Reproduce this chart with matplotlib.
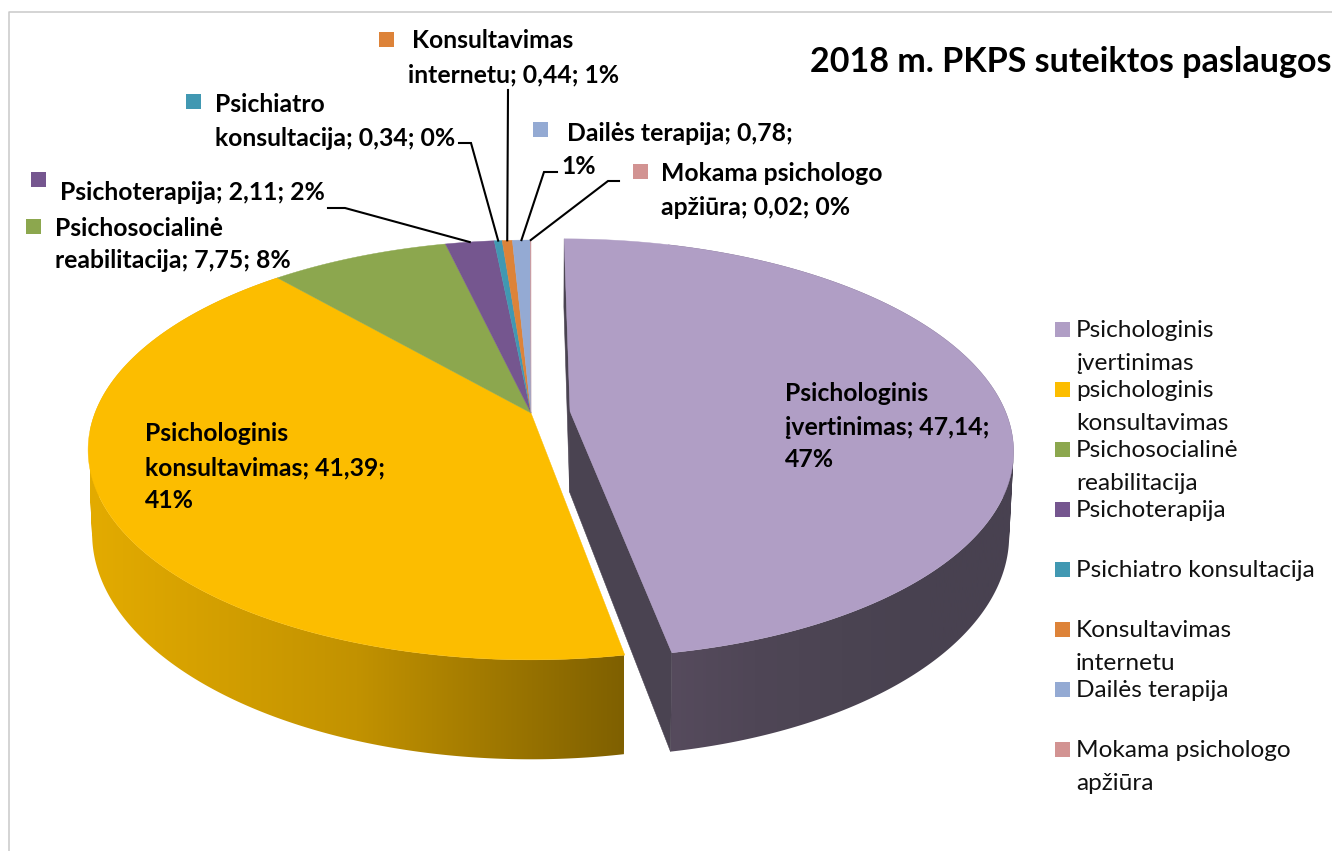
"""2018 m. PKPS suteiktos paslaugos: exploded perspective pie."""
import matplotlib

matplotlib.use("Agg")  # headless backend
import matplotlib.pyplot as plt
import numpy as np
from matplotlib.colors import LinearSegmentedColormap
from matplotlib.patches import PathPatch, Polygon, Rectangle
from matplotlib.path import Path

plt.rcParams["font.family"] = ["Lato", "DejaVu Sans"]

TITLE = "2018 m. PKPS suteiktos paslaugos"
VALUES = [47.14, 41.39, 7.75, 2.11, 0.34, 0.44, 0.78, 0.02]
COLORS = ["#B09EC5", "#FCBD00", "#8CA74E", "#75568F", "#4198B2", "#DD8339", "#94AAD3", "#D29392"]
LEGEND_LINES = [
    ["Psichologinis", "įvertinimas"],
    ["psichologinis", "konsultavimas"],
    ["Psichosocialinė", "reabilitacija"],
    ["Psichoterapija"],
    ["Psichiatro konsultacija"],
    ["Konsultavimas", "internetu"],
    ["Dailės terapija"],
    ["Mokama psichologo", "apžiūra"],
]
LABEL_LINES = [
    ["Psichologinis", "įvertinimas; 47,14;", "47%"],
    ["Psichologinis", "konsultavimas; 41,39;", "41%"],
    ["Psichosocialinė", "reabilitacija; 7,75; 8%"],
    ["Psichoterapija; 2,11; 2%"],
    ["Psichiatro", "konsultacija; 0,34; 0%"],
    ["Konsultavimas", "internetu; 0,44; 1%"],
    ["Dailės terapija; 0,78;", "1%"],
    ["Mokama psichologo", "apžiūra; 0,02; 0%"],
]

# layout, in picture pixels
LABEL_X = [[785, 785, 785], [145, 145, 145], [55, 55], [60], [215, 215], [412, 408], [567, 561], [661, 661]]
LABEL_Y = [[401, 435, 467], [441, 475, 508], [236, 268], [200], [112, 146], [48, 82], [141, 174], [181, 215]]
LABEL_KEY = [(758, 384), (115, 424), (26, 219), (31, 172), (186, 94), (379, 32), (533, 122), (633, 164)]
LEGEND_Y = [337, 397, 457, 517, 577, 637, 697, 757]
# (label end, elbow), the last point comes from the slice rim
LEADERS = {
    3: [(328, 208), (345, 208)],
    4: [(459, 143), (471, 143)],
    5: [(508, 90)],
    6: [(557, 172), (544, 172)],
    7: [(619, 181), (608, 181)],
}

CX, TOP_Y, A, B, K = 531, 413, 436, 203.4, 0.176
LOW_Y, LOW_A, LOW_B = 494, 432, 218.6
EXPLODE = 0.09


def project(x, y, lower=False):
    """Disk coordinates (radius 1, y away from viewer) to picture pixels."""
    a, b, y0 = (LOW_A, LOW_B, LOW_Y) if lower else (A, B, TOP_Y)
    w = 1 + K * y
    return CX + a * x / w, y0 - b * y / w


def rim(t0, t1, off, lower=False):
    t = np.radians(np.linspace(t0, t1, max(int(abs(t1 - t0) * 3), 2)))
    return np.column_stack(project(np.sin(t) + off[0], np.cos(t) + off[1], lower))


def side_path(top, low):
    """Quads between both rims, all wound the same way so they fill as a union."""
    verts, codes = [], []
    for i in range(len(top) - 1):
        quad = np.array([top[i], top[i + 1], low[i + 1], low[i]])
        x, y = quad[:, 0], quad[:, 1]
        if np.dot(x, np.roll(y, -1)) - np.dot(y, np.roll(x, -1)) < 0:
            quad = quad[::-1]
        verts.extend(quad)
        verts.append(quad[0])
        codes.extend([Path.MOVETO, Path.LINETO, Path.LINETO, Path.LINETO, Path.CLOSEPOLY])
    return Path(np.array(verts), codes)


def gradient_fill(ax, path, stops, x0, x1):
    cmap = LinearSegmentedColormap.from_list("side", stops)
    im = ax.imshow(np.linspace(0, 1, 256)[None, :], cmap=cmap, aspect="auto",
                   extent=(x0, x1, 851, 0), zorder=1)
    im.set_clip_path(PathPatch(path, transform=ax.transData))


fig = plt.figure(figsize=(13.32, 8.51), dpi=100)
ax = fig.add_axes([0, 0, 1, 1])

ax.plot([9, 9, 1332], [851, 12, 12], color="#C9C9C9", lw=1.1, zorder=0)

edges = np.cumsum([0] + VALUES) / sum(VALUES) * 360
mid0 = np.radians((edges[0] + edges[1]) / 2)
exploded = (EXPLODE * np.sin(mid0), EXPLODE * np.cos(mid0))
offsets = [exploded] + [(0, 0)] * (len(VALUES) - 1)

# sides of the two big slices
for i, stops, x0, x1 in [
    (0, ["#564B5D", "#4F4656", "#4B4452", "#484150", "#484150"], 668, 1016),
    (1, ["#E3AB00", "#C29200", "#7F6000"], 90, 624),
]:
    off = offsets[i]
    top = rim(edges[i], edges[i + 1], off)
    low = rim(edges[i], edges[i + 1], off, lower=True)
    gradient_fill(ax, side_path(top, low), stops, x0, x1)

# cut faces of the exploded slice
apex_top = np.array(project(*exploded))
apex_low = np.array(project(*exploded, lower=True))
for t in edges[:2]:
    top = rim(t, t + 0.1, exploded)[0]
    low = rim(t, t + 0.1, exploded, lower=True)[0]
    ax.add_patch(Polygon([apex_top, top, low, apex_low], fc="#4A4351", ec="#4A4351", lw=0.4, zorder=1.5))

# top faces
for i, color in enumerate(COLORS):
    off = offsets[i]
    pts = np.vstack([project(*off), rim(edges[i], edges[i + 1], off)])
    ax.add_patch(Polygon(pts, fc=color, ec=color, lw=0.3, zorder=2))

# leader lines
for i, pts in LEADERS.items():
    end = rim((edges[i] + edges[i + 1]) / 2, (edges[i] + edges[i + 1]) / 2 + 0.1, offsets[i])[0]
    xs, ys = zip(*(pts + [tuple(end)]))
    ax.plot(xs, ys, color="black", lw=1.5, zorder=3, solid_joinstyle="miter")

# data labels
for i, lines in enumerate(LABEL_LINES):
    kx, ky = LABEL_KEY[i]
    ax.add_patch(Rectangle((kx, ky), 15, 15, fc=COLORS[i], ec="none", zorder=3))
    for text, x, y in zip(lines, LABEL_X[i], LABEL_Y[i]):
        ax.text(x, y, text, fontsize=17.8, fontweight="bold", color="black",
                ha="left", va="baseline", zorder=4)

# legend
for i, lines in enumerate(LEGEND_LINES):
    ax.add_patch(Rectangle((1055, LEGEND_Y[i] - 15), 15, 15, fc=COLORS[i], ec="none", zorder=3))
    for j, text in enumerate(lines):
        ax.text(1076, LEGEND_Y[i] + 33 * j, text, fontsize=17.6, color="#111111",
                ha="left", va="baseline", zorder=4)

ax.text(810, 72, TITLE, fontsize=24.5, fontweight="bold", color="black", ha="left", va="baseline")

ax.set_xlim(0, 1332)
ax.set_ylim(851, 0)
ax.axis("off")

fig.savefig("out.png", dpi=100)
